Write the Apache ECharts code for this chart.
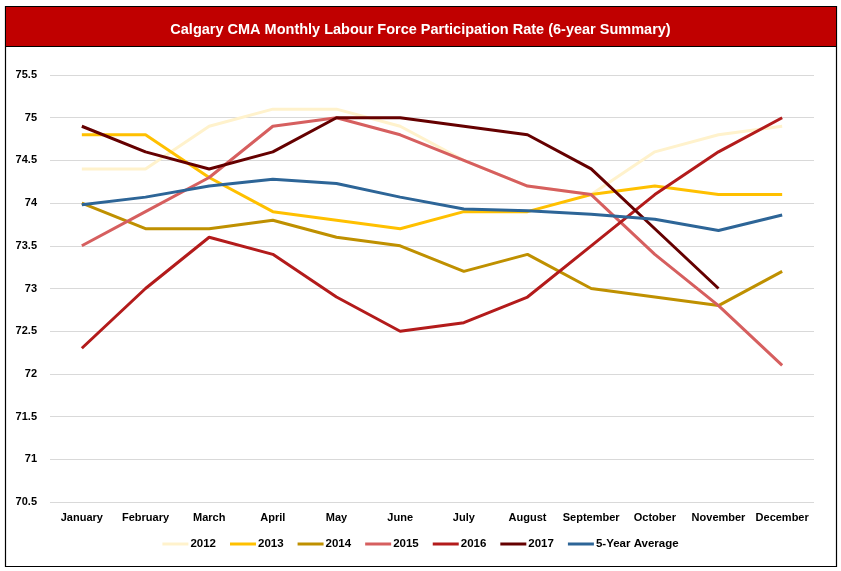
<!DOCTYPE html>
<html><head><meta charset="utf-8">
<script src="https://cdn.jsdelivr.net/npm/echarts@6/dist/echarts.min.js"></script>
<style>html,body{margin:0;padding:0;background:#fff}#c{width:841px;height:571px}</style>
</head><body><div id="c"></div>
<script>
const months = ['January','February','March','April','May','June','July','August','September','October','November','December'];
const y2012 = [74.4,74.4,74.9,75.1,75.1,74.9,74.5,74.2,74.1,74.6,74.8,74.9];
const y2013 = [74.8,74.8,74.3,73.9,73.8,73.7,73.9,73.9,74.1,74.2,74.1,74.1];
const y2014 = [74.0,73.7,73.7,73.8,73.6,73.5,73.2,73.4,73.0,72.9,72.8,73.2];
const y2015 = [73.5,73.9,74.3,74.9,75.0,74.8,74.5,74.2,74.1,73.4,72.8,72.1];
const y2016 = [72.3,73.0,73.6,73.4,72.9,72.5,72.6,72.9,73.5,74.1,74.6,75.0];
const y2017 = [74.9,74.6,74.4,74.6,75.0,75.0,74.9,74.8,74.4,73.7,73.0,null];
const avg5 = [73.98,74.07,74.2,74.28,74.23,74.07,73.93,73.91,73.87,73.81,73.68,73.86];
const yTicks = ['70.5','71','71.5','72','72.5','73','73.5','74','74.5','75','75.5'];

const names = ['2012','2013','2014','2015','2016','2017','5-Year Average'];
const datas = [y2012,y2013,y2014,y2015,y2016,y2017,avg5];
const colors = ['#FFF2CC','#FFC000','#BF9000','#D65F5F','#B31B1B','#650000','#2D6597'];
const font = '"Liberation Sans", Arial, sans-serif';

const chart = echarts.init(document.getElementById('c'));
chart.setOption({
  animation:false,
  textStyle:{fontFamily:font},
  title:{text:'Calgary CMA Monthly Labour Force Participation Rate (6-year Summary)',left:'center',top:17,
    textStyle:{color:'#fff',fontSize:14.5,fontWeight:'bold',fontFamily:font}},
  graphic:[
    {type:'rect',z:-1,shape:{x:5.5,y:6.5,width:831,height:560},style:{fill:'#fff',stroke:'#000',lineWidth:1.2}},
    {type:'rect',z:-1,shape:{x:6,y:7,width:830,height:39},style:{fill:'#C00000',stroke:null}},
    {type:'line',z:-1,shape:{x1:5,y1:46.5,x2:837,y2:46.5},style:{stroke:'#000',lineWidth:1.2}}
  ],
  grid:{left:50,right:27,top:75,bottom:69},
  legend:{bottom:16,left:'center',itemWidth:26,itemHeight:3,itemGap:14,
    icon:'rect',
    textStyle:{fontSize:11.5,fontWeight:'bold',color:'#000',fontFamily:font,padding:[0,0,0,-3]},
    data:names},
  xAxis:{type:'category',data:months,boundaryGap:true,
    axisLine:{show:false},axisTick:{show:false},
    axisLabel:{color:'#000',fontSize:11,fontWeight:'bold',margin:10,interval:0}},
  yAxis:{type:'value',min:70.5,max:75.5,interval:0.5,
    axisLine:{show:false},axisTick:{show:false},
    splitLine:{lineStyle:{color:'#D9D9D9',width:1}},
    axisLabel:{color:'#000',fontSize:11,fontWeight:'bold',margin:13,
      formatter:v=>{const s=String(Math.round(v*10)/10);return yTicks.includes(s)?s:'';}}},
  series:names.map((n,i)=>({name:n,type:'line',data:datas[i],symbol:'none',
    lineStyle:{color:colors[i],width:3},itemStyle:{color:colors[i]},connectNulls:false}))
});
</script></body></html>
